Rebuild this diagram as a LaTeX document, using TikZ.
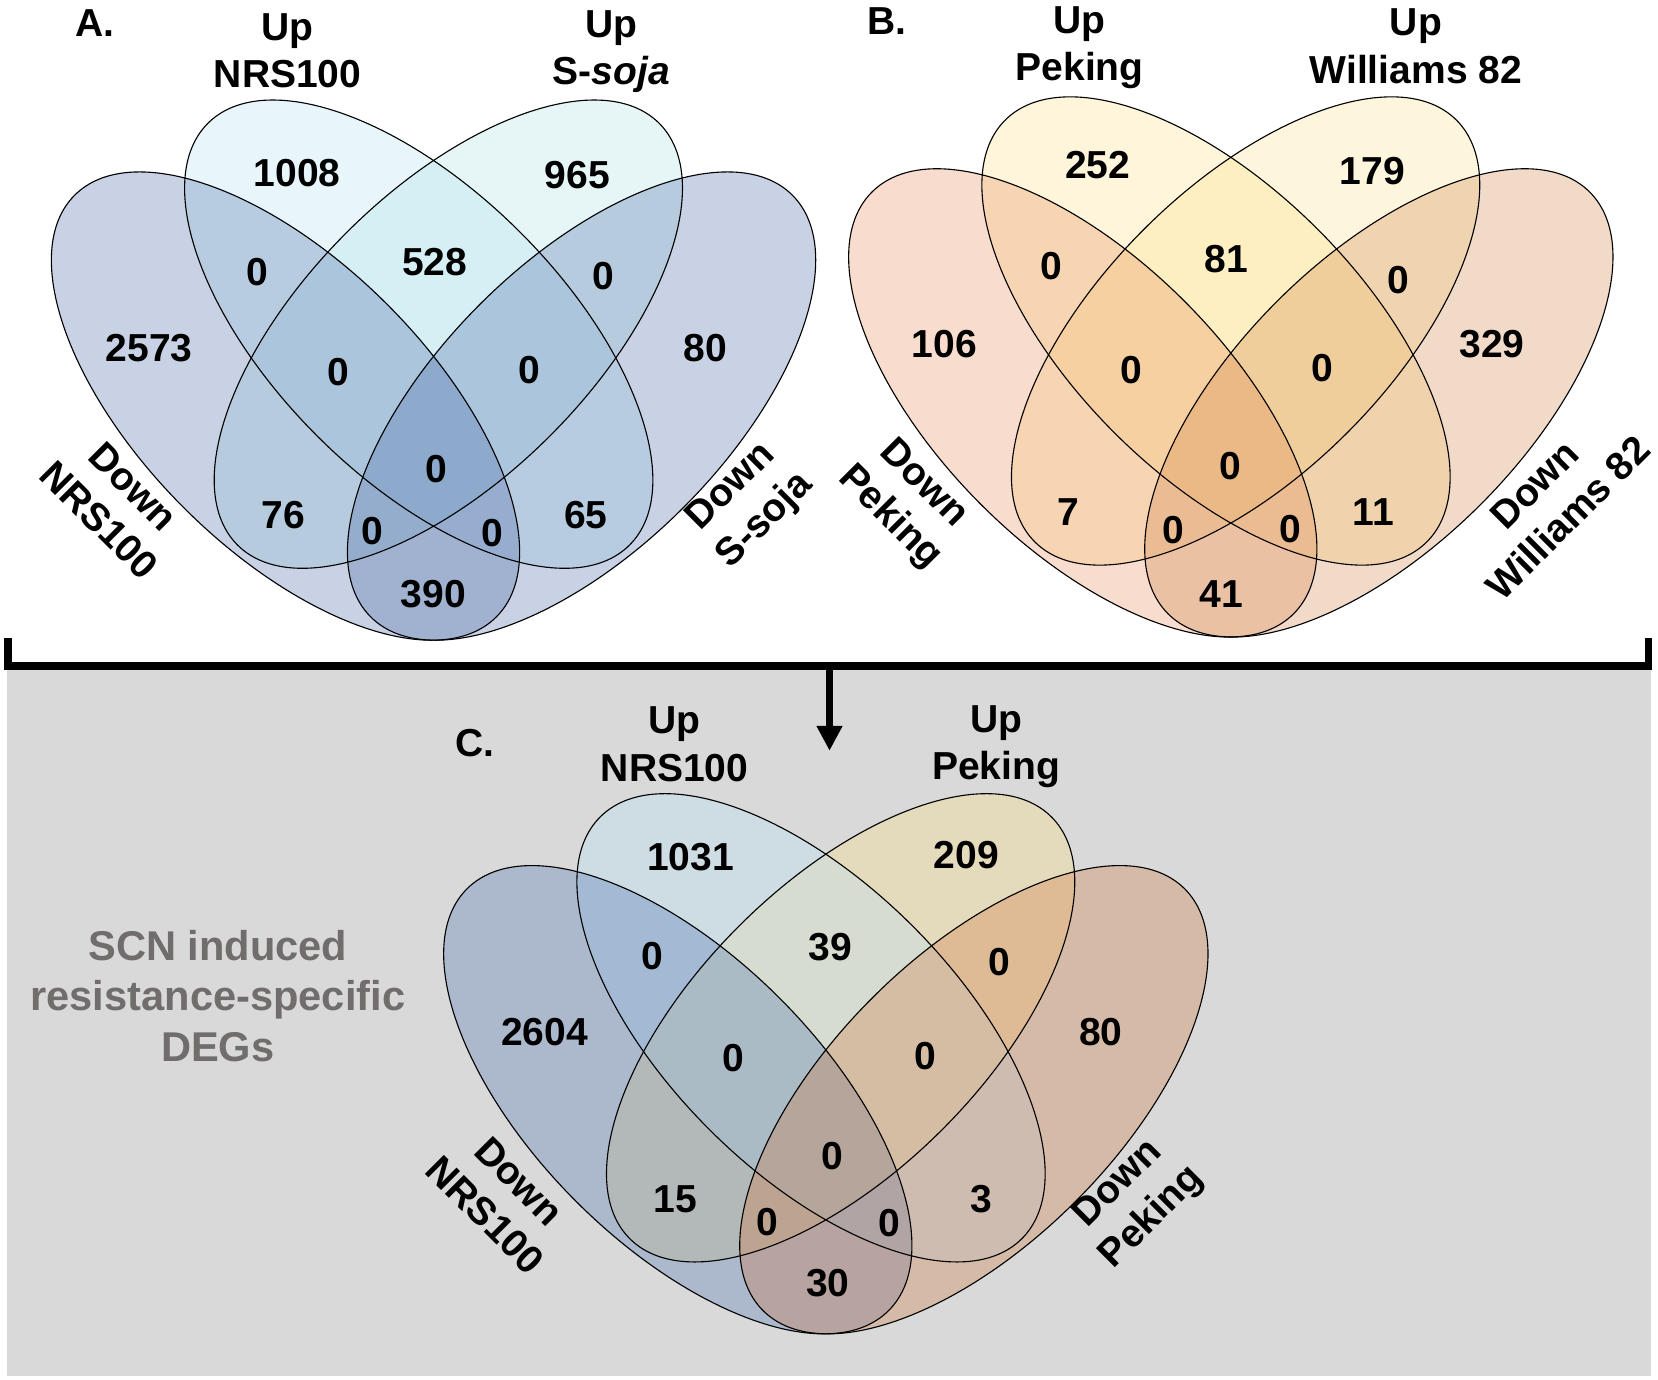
\documentclass[tikz,border=0pt]{standalone}
\usepackage{fontspec}
\setmainfont{Liberation Sans}
\usepackage{tikz}
\usetikzlibrary{arrows.meta}
\definecolor{dnrs}{RGB}{72,105,165}
\definecolor{unrs}{RGB}{178,225,245}
\definecolor{usoja}{RGB}{172,222,222}
\definecolor{dpek}{RGB}{232,138,88}
\definecolor{upek}{RGB}{252,222,132}
\definecolor{uwil}{RGB}{252,225,138}
\definecolor{dwil}{RGB}{208,132,72}
\definecolor{dnrsC}{RGB}{69,109,176}
\definecolor{unrsC}{RGB}{183,229,255}
\definecolor{upekC}{RGB}{255,223,123}
\definecolor{dpekC}{RGB}{209,116,56}
\definecolor{bggray}{RGB}{217,217,217}
\definecolor{scngray}{RGB}{113,109,109}

\begin{document}
\begin{tikzpicture}[x=0.1mm, y=-0.1mm,
  count/.style={font=\fontsize{10.5}{12.8}\selectfont\bfseries, inner sep=0pt},
  setname/.style={align=center, font=\fontsize{10.5}{12.8}\selectfont\bfseries, inner sep=0pt},
  vennfill/.style={fill opacity=0.3},
  vennline/.style={line width=0.3pt}]
  \useasboundingbox (0,0) rectangle (1568,1305);

  % grey box and bracket
  \fill[bggray] (6.3,630) rectangle (1561,1301);
  \coordinate (brkL) at (7.5,603);
  \coordinate (brkLc) at (7.5,630);
  \coordinate (brkR) at (1559,603);
  \coordinate (brkRc) at (1559,630);
  \coordinate (brkM) at (784.5,630);
  \coordinate (arrTip) at (784.5,710);
  \draw[line width=0.7mm] (brkL) -- (brkLc) -- (brkRc) -- (brkR);
  \draw[line width=0.7mm, -{Triangle[width=2.3mm, length=2.35mm]}] (brkM) -- (arrTip);

  % A. ellipses
  \fill[usoja, vennfill, shift={(424,316)}, rotate=45] (0,0) ellipse [x radius=28.2mm, y radius=13.6mm];
  \fill[unrs, vennfill, shift={(396,316)}, rotate=-45] (0,0) ellipse [x radius=28.2mm, y radius=13.6mm];
  \fill[dnrs, vennfill, shift={(270,384)}, rotate=-45] (0,0) ellipse [x radius=28.2mm, y radius=13.6mm];
  \fill[dnrs, vennfill, shift={(550,384)}, rotate=45] (0,0) ellipse [x radius=28.2mm, y radius=13.6mm];
  \draw[vennline, shift={(270,384)}, rotate=-45] (0,0) ellipse [x radius=28.2mm, y radius=13.6mm];
  \draw[vennline, shift={(396,316)}, rotate=-45] (0,0) ellipse [x radius=28.2mm, y radius=13.6mm];
  \draw[vennline, shift={(424,316)}, rotate=45] (0,0) ellipse [x radius=28.2mm, y radius=13.6mm];
  \draw[vennline, shift={(550,384)}, rotate=45] (0,0) ellipse [x radius=28.2mm, y radius=13.6mm];

  % B. ellipses
  \fill[uwil, vennfill, shift={(1178,313)}, rotate=45] (0,0) ellipse [x radius=28.2mm, y radius=13.6mm];
  \fill[upek, vennfill, shift={(1150,313)}, rotate=-45] (0,0) ellipse [x radius=28.2mm, y radius=13.6mm];
  \fill[dpek, vennfill, shift={(1024,381)}, rotate=-45] (0,0) ellipse [x radius=28.2mm, y radius=13.6mm];
  \fill[dwil, vennfill, shift={(1304,381)}, rotate=45] (0,0) ellipse [x radius=28.2mm, y radius=13.6mm];
  \draw[vennline, shift={(1024,381)}, rotate=-45] (0,0) ellipse [x radius=28.2mm, y radius=13.6mm];
  \draw[vennline, shift={(1150,313)}, rotate=-45] (0,0) ellipse [x radius=28.2mm, y radius=13.6mm];
  \draw[vennline, shift={(1178,313)}, rotate=45] (0,0) ellipse [x radius=28.2mm, y radius=13.6mm];
  \draw[vennline, shift={(1304,381)}, rotate=45] (0,0) ellipse [x radius=28.2mm, y radius=13.6mm];

  % C. ellipses
  \fill[upekC, vennfill, shift={(795,972)}, rotate=45] (0,0) ellipse [x radius=28.2mm, y radius=13.6mm];
  \fill[unrsC, vennfill, shift={(767,972)}, rotate=-45] (0,0) ellipse [x radius=28.2mm, y radius=13.6mm];
  \fill[dnrsC, vennfill, shift={(641,1040)}, rotate=-45] (0,0) ellipse [x radius=28.2mm, y radius=13.6mm];
  \fill[dpekC, vennfill, shift={(921,1040)}, rotate=45] (0,0) ellipse [x radius=28.2mm, y radius=13.6mm];
  \draw[vennline, shift={(641,1040)}, rotate=-45] (0,0) ellipse [x radius=28.2mm, y radius=13.6mm];
  \draw[vennline, shift={(767,972)}, rotate=-45] (0,0) ellipse [x radius=28.2mm, y radius=13.6mm];
  \draw[vennline, shift={(795,972)}, rotate=45] (0,0) ellipse [x radius=28.2mm, y radius=13.6mm];
  \draw[vennline, shift={(921,1040)}, rotate=45] (0,0) ellipse [x radius=28.2mm, y radius=13.6mm];

  % A. labels
  \node[setname] (tagA) at (90,22) {A.};
  \node[setname] (upA1) at (272,48) {Up\\NRS100};
  \node[setname] (upA2) at (578,49) {Up\\S-\textit{soja}};
  \node[setname, rotate=-45] (dnA1) at (110,476) {Down\\NRS100};
  \node[setname, rotate=45] (dnA2) at (708,477) {Down\\S-soja};
  \node[count] (nA1) at (281,164) {1008};
  \node[count] (nA2) at (546,166) {965};
  \node[count] (nA3) at (243,257) {0};
  \node[count] (nA4) at (411,248) {528};
  \node[count] (nA5) at (571,261) {0};
  \node[count] (nA6) at (141,329) {2573};
  \node[count] (nA7) at (320,352) {0};
  \node[count] (nA8) at (501,350) {0};
  \node[count] (nA9) at (667,329) {80};
  \node[count] (nA10) at (413,444) {0};
  \node[count] (nA11) at (268,487) {76};
  \node[count] (nA12) at (352,502) {0};
  \node[count] (nA13) at (466,504) {0};
  \node[count] (nA14) at (554,487) {65};
  \node[count] (nA15) at (410,562) {390};

  % B. labels
  \node[setname] (tagB) at (839,20) {B.};
  \node[setname] (upB1) at (1021,45) {Up\\Peking};
  \node[setname] (upB2) at (1339,44) {Up\\Williams 82};
  \node[setname, rotate=-45] (dnB1) at (857,474) {Down\\Peking};
  \node[setname, rotate=45] (dnB2) at (1467,474) {Down\\Williams 82};
  \node[count] (nB1) at (1038,156) {252};
  \node[count] (nB2) at (1298,162) {179};
  \node[count] (nB3) at (994,252) {0};
  \node[count] (nB4) at (1160,245) {81};
  \node[count] (nB5) at (1322,265) {0};
  \node[count] (nB6) at (893,325) {106};
  \node[count] (nB7) at (1070,350) {0};
  \node[count] (nB8) at (1251,348) {0};
  \node[count] (nB9) at (1411,325) {329};
  \node[count] (nB10) at (1164,441) {0};
  \node[count] (nB11) at (1010,484) {7};
  \node[count] (nB12) at (1110,501) {0};
  \node[count] (nB13) at (1220,500) {0};
  \node[count] (nB14) at (1299,484) {11};
  \node[count] (nB15) at (1155,562) {41};

  % C. labels
  \node[setname] (tagC) at (449,703) {C.};
  \node[setname] (upC1) at (638,704) {Up\\NRS100};
  \node[setname] (upC2) at (942,706) {Up\\Peking};
  \node[setname, rotate=-45] (dnC1) at (475,1133) {Down\\NRS100};
  \node[setname, rotate=45] (dnC2) at (1074,1136) {Down\\Peking};
  \node[count] (nC1) at (653,811) {1031};
  \node[count] (nC2) at (914,809) {209};
  \node[count] (nC3) at (617,904) {0};
  \node[count] (nC4) at (785,896) {39};
  \node[count] (nC5) at (945,910) {0};
  \node[count] (nC6) at (515,976) {2604};
  \node[count] (nC7) at (694,1001) {0};
  \node[count] (nC8) at (875,999) {0};
  \node[count] (nC9) at (1041,976) {80};
  \node[count] (nC10) at (787,1093) {0};
  \node[count] (nC11) at (639,1134) {15};
  \node[count] (nC12) at (726,1156) {0};
  \node[count] (nC13) at (841,1157) {0};
  \node[count] (nC14) at (928,1134) {3};
  \node[count] (nC15) at (783,1213) {30};
  \node[align=center, text=scngray, inner sep=0pt,
        font=\fontsize{11.2}{13.7}\selectfont\bfseries] (scn) at (206,942)
        {SCN induced\\resistance-specific\\DEGs};
\end{tikzpicture}
\end{document}
